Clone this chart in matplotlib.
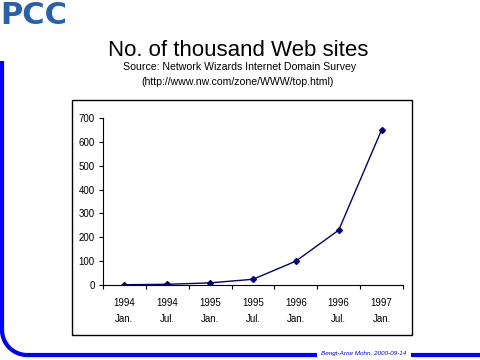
import matplotlib
matplotlib.use("Agg")
import matplotlib.pyplot as plt
from matplotlib.patches import Rectangle, Arc
import numpy as np

# ---- data ----
years = ["1994", "1994", "1995", "1995", "1996", "1996", "1997"]
months = ["Jan.", "Jul.", "Jan.", "Jul.", "Jan.", "Jul.", "Jan."]
sites_thousands = [1, 3, 9, 24, 100, 230, 650]
y_ticks = [0, 100, 200, 300, 400, 500, 600, 700]

title = "No. of thousand Web sites"
source1 = "Source: Network Wizards Internet Domain Survey"
source2 = "(http://www.nw.com/zone/WWW/top.html)"
footer = "Bengt-Arne Mohn, 2000-09-14"
logo = "PCC"

plt.rcParams['font.family'] = ['Liberation Sans', 'DejaVu Sans']

W, H = 480, 360
fig = plt.figure(figsize=(4.8, 3.6), dpi=100)

# overlay in pixel coordinates
bg = fig.add_axes([0, 0, 1, 1], zorder=0)
bg.set_xlim(0, W)
bg.set_ylim(H, 0)
bg.axis('off')

blue = '#0000FF'
lw = 3.0
r = 25
bg.plot([2, 2], [61, 355 - r], color=blue, lw=lw, solid_capstyle='butt')
bg.add_patch(Arc((2 + r, 355 - r), 2 * r, 2 * r, theta1=90, theta2=180,
                 color=blue, lw=lw))
bg.plot([2 + r, 317], [355, 355], color=blue, lw=lw, solid_capstyle='butt')
bg.plot([411, 480], [355, 355], color=blue, lw=lw, solid_capstyle='butt')
bg.text(364, 354, footer, color=blue, fontsize=4.6, style='italic',
        ha='center', va='center')

# logo
bg.text(0, 16, logo, color='#2660b0', fontsize=22, fontweight='bold',
        family=['Liberation Sans Narrow', 'DejaVu Sans'],
        ha='left', va='center')

# titles
bg.text(238, 51, title, fontsize=16, ha='center', va='center')
bg.text(240, 67, source1, fontsize=7.6, ha='center', va='center')
bg.text(238, 82, source2, fontsize=7.6, ha='center', va='center')

# chart box
bg.add_patch(Rectangle((72, 100), 340, 235, fill=False, ec='black', lw=1.0))

# main axes
left, right, top, bottom = 103, 403, 118, 285
ax = fig.add_axes([left / W, 1 - bottom / H, (right - left) / W, (bottom - top) / H],
                  zorder=1)
ax.patch.set_alpha(0)
x = np.arange(len(sites_thousands))
ax.plot(x, sites_thousands, color='#000080', lw=1.0, marker='D', ms=3,
        mfc='#000080', mec='#000080')
ax.set_xlim(-0.5, len(x) - 0.5)
ax.set_ylim(0, 700)
ax.set_yticks(y_ticks)
ax.set_yticklabels([str(v) for v in y_ticks], fontsize=7)
ax.set_xticks(x)
ax.set_xticklabels([f"{y}\n{m}" for y, m in zip(years, months)], fontsize=7,
                   linespacing=1.75)
ax.set_xticks(np.arange(-0.5, len(x), 1.0), minor=True)
ax.tick_params(axis='x', which='major', length=0, pad=9)
ax.tick_params(axis='x', which='minor', length=3, width=0.8, direction='out')
ax.tick_params(axis='y', length=3, width=0.8, direction='out', pad=3)
for s in ['top', 'right']:
    ax.spines[s].set_visible(False)
for s in ['left', 'bottom']:
    ax.spines[s].set_linewidth(0.8)

fig.savefig('out.png', dpi=100)
